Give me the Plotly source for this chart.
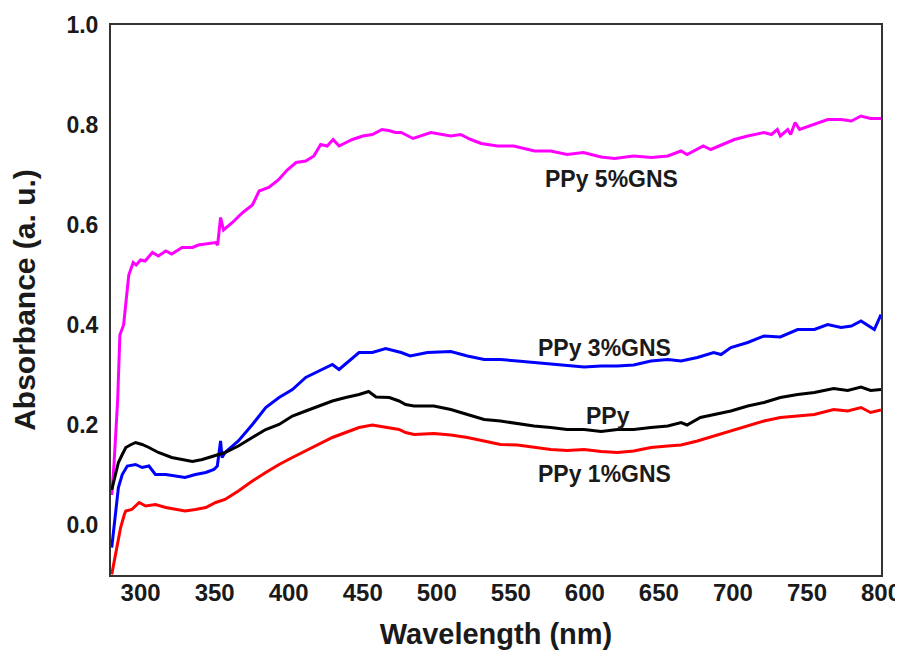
import plotly.graph_objects as go

# ---- data ----
x_5gns = [280.5, 282, 284.5, 286, 288.5, 290, 292, 295, 297, 300, 303, 308, 312, 317, 321, 328, 335, 339, 345,
          350.7, 352, 354, 356, 362, 369, 375.5, 380, 386.5, 393, 399, 405, 411.5, 417, 421.6, 426, 430, 434,
          443, 450, 456.5, 463, 467.6, 472, 476, 484, 496, 509.5, 516, 523, 530, 541, 552, 566, 577, 588, 599,
          611, 620, 633, 645, 656, 665, 669, 680, 685, 701, 710, 721, 726, 730, 732, 737, 739, 742, 745, 755,
          764, 773, 780, 786.5, 793, 800]
y_5gns = [0.06, 0.12, 0.25, 0.38, 0.40, 0.45, 0.50, 0.525, 0.52, 0.53, 0.528, 0.545, 0.538, 0.548, 0.542, 0.555,
          0.555, 0.56, 0.562, 0.565, 0.56, 0.615, 0.59, 0.605, 0.625, 0.64, 0.668, 0.675, 0.69, 0.71, 0.725, 0.728,
          0.738, 0.761, 0.758, 0.771, 0.758, 0.771, 0.778, 0.781, 0.791, 0.789, 0.785, 0.785, 0.773, 0.785, 0.778,
          0.781, 0.771, 0.763, 0.758, 0.758, 0.748, 0.748, 0.741, 0.745, 0.736, 0.733, 0.738, 0.735, 0.738, 0.748,
          0.741, 0.758, 0.751, 0.771, 0.778, 0.785, 0.781, 0.791, 0.778, 0.791, 0.781, 0.805, 0.791, 0.801, 0.811,
          0.811, 0.808, 0.818, 0.813, 0.813]

x_3gns = [280.5, 283, 285, 287.6, 291, 296.6, 301, 305.6, 310, 317, 323.6, 330, 337, 344, 349.5, 351.8, 354, 355,
          357, 366, 375.5, 384.5, 393.5, 402.5, 411.5, 420.5, 429.5, 434, 440.7, 447.5, 456.5, 465.5, 472, 476,
          482, 493.7, 509.5, 520.7, 532, 543, 554.5, 565.7, 577, 588, 599.5, 611, 622, 633, 644.6, 656, 665,
          676, 687, 692, 698.6, 710, 721, 732, 743.7, 755, 764, 773, 780, 786.5, 795.5, 800]
y_3gns = [-0.045, 0.02, 0.075, 0.101, 0.118, 0.121, 0.115, 0.118, 0.101, 0.101, 0.098, 0.095, 0.101, 0.105, 0.111,
          0.118, 0.168, 0.135, 0.145, 0.168, 0.201, 0.235, 0.255, 0.271, 0.295, 0.308, 0.321, 0.311, 0.328, 0.345,
          0.345, 0.353, 0.348, 0.345, 0.338, 0.345, 0.347, 0.338, 0.331, 0.331, 0.328, 0.325, 0.321, 0.318, 0.316,
          0.318, 0.318, 0.32, 0.328, 0.331, 0.328, 0.335, 0.345, 0.341, 0.355, 0.365, 0.378, 0.376, 0.391, 0.391,
          0.401, 0.395, 0.398, 0.408, 0.391, 0.421]

x_ppy = [280.5, 283, 285, 287.6, 290, 293, 296.6, 301, 305.6, 312, 321, 328, 335, 341.7, 350.7, 357, 366, 375.5,
         384.5, 393.5, 402.5, 411.5, 420.5, 429.5, 438.5, 447.5, 454, 459, 468, 474.5, 479, 484.6, 498, 509.5,
         520.7, 532, 543, 554.5, 565.7, 577, 588, 599.5, 611, 622, 633, 644.6, 656, 665, 669, 678, 687, 698.6,
         710, 721, 732, 743.7, 755, 768, 777.5, 786.5, 793, 800]
y_ppy = [0.07, 0.10, 0.125, 0.141, 0.155, 0.16, 0.165, 0.161, 0.155, 0.145, 0.135, 0.131, 0.127, 0.131, 0.14,
         0.145, 0.158, 0.175, 0.191, 0.201, 0.218, 0.228, 0.238, 0.248, 0.255, 0.261, 0.267, 0.256, 0.255, 0.248,
         0.241, 0.238, 0.238, 0.231, 0.221, 0.211, 0.208, 0.203, 0.198, 0.195, 0.191, 0.191, 0.187, 0.191, 0.191,
         0.195, 0.198, 0.205, 0.2, 0.215, 0.221, 0.228, 0.238, 0.245, 0.255, 0.261, 0.265, 0.273, 0.269, 0.276,
         0.269, 0.271]

x_1gns = [280.5, 284, 286.5, 289, 290, 294, 299, 303.4, 310, 317, 323.6, 330, 337, 344, 350.7, 357, 366, 375.5,
          384.5, 393.5, 402.5, 411.5, 420.5, 429.5, 438.5, 447.5, 456.5, 465.5, 474.5, 479, 484.6, 498, 509.5,
          520.7, 532, 543, 554.5, 565.7, 577, 588, 599.5, 611, 622, 633, 644.6, 656, 665, 676, 687, 698.6, 710,
          721, 732, 743.7, 755, 768, 777.5, 786.5, 793, 800]
y_1gns = [-0.099, -0.045, -0.005, 0.021, 0.028, 0.031, 0.045, 0.038, 0.041, 0.035, 0.031, 0.028, 0.031, 0.035,
          0.045, 0.051, 0.068, 0.088, 0.105, 0.121, 0.135, 0.148, 0.161, 0.175, 0.185, 0.195, 0.2, 0.196, 0.191,
          0.185, 0.181, 0.183, 0.18, 0.175, 0.168, 0.161, 0.16, 0.155, 0.151, 0.149, 0.151, 0.147, 0.145, 0.148,
          0.155, 0.158, 0.16, 0.168, 0.178, 0.188, 0.198, 0.208, 0.215, 0.218, 0.221, 0.231, 0.228, 0.235, 0.225,
          0.23]

series_names = ["PPy 5%GNS", "PPy 3%GNS", "PPy", "PPy 1%GNS"]
series_colors = ["#ff00ff", "#0000ff", "#000000", "#ff0000"]
label_x = [618, 613.5, 615.5, 613]
label_y = [0.692, 0.354, 0.218, 0.102]

x_ticks = [300, 350, 400, 450, 500, 550, 600, 650, 700, 750, 800]
y_ticks = [0.0, 0.2, 0.4, 0.6, 0.8, 1.0]

# ---- figure ----
# the page body has an 8 px margin: the figure starts at (8, 8) in the window
FONT = "Liberation Sans, Arial, sans-serif"
fig = go.Figure()
all_x = [x_5gns, x_3gns, x_ppy, x_1gns]
all_y = [y_5gns, y_3gns, y_ppy, y_1gns]
for xs, ys, name, col in zip(all_x, all_y, series_names, series_colors):
    fig.add_trace(go.Scatter(x=xs, y=ys, mode="lines", name=name,
                             line=dict(color=col, width=3), showlegend=False))

for name, lx, ly in zip(series_names, label_x, label_y):
    fig.add_annotation(x=lx, y=ly, text=name, showarrow=False,
                       font=dict(family=FONT, size=23, color="#1a1a1a", weight="bold"))

fig.update_layout(
    width=895, height=642,
    margin=dict(l=103, r=22, t=17, b=75, autoexpand=False),
    paper_bgcolor="white", plot_bgcolor="white",
    font=dict(family=FONT, color="#1a1a1a"),
)
fig.update_xaxes(
    range=[280, 800], tickvals=x_ticks, ticktext=[str(v) for v in x_ticks],
    showgrid=False, zeroline=False, showline=True, linecolor="#333333", linewidth=2, mirror=True,
    ticks="", ticklen=0, ticklabelstandoff=-5, automargin=False, ticklabeloverflow="allow",
    tickfont=dict(family=FONT, size=24, color="#1a1a1a", weight="bold"),
    title=dict(text="Wavelength (nm)", font=dict(family=FONT, size=29, color="#1a1a1a", weight="bold"),
               standoff=30),
)
fig.update_yaxes(
    range=[-0.1, 1.0], tickvals=y_ticks, ticktext=[f"{v:.1f}" for v in y_ticks],
    showgrid=False, zeroline=False, showline=True, linecolor="#333333", linewidth=2, mirror=True,
    ticks="", ticklen=0, ticklabelstandoff=6, automargin=False,
    tickfont=dict(family=FONT, size=23, color="#1a1a1a", weight="bold"),
    title=dict(text="Absorbance (a. u.)", font=dict(family=FONT, size=30, color="#1a1a1a", weight="bold"),
               standoff=24),
)

fig.write_html("out.html")
